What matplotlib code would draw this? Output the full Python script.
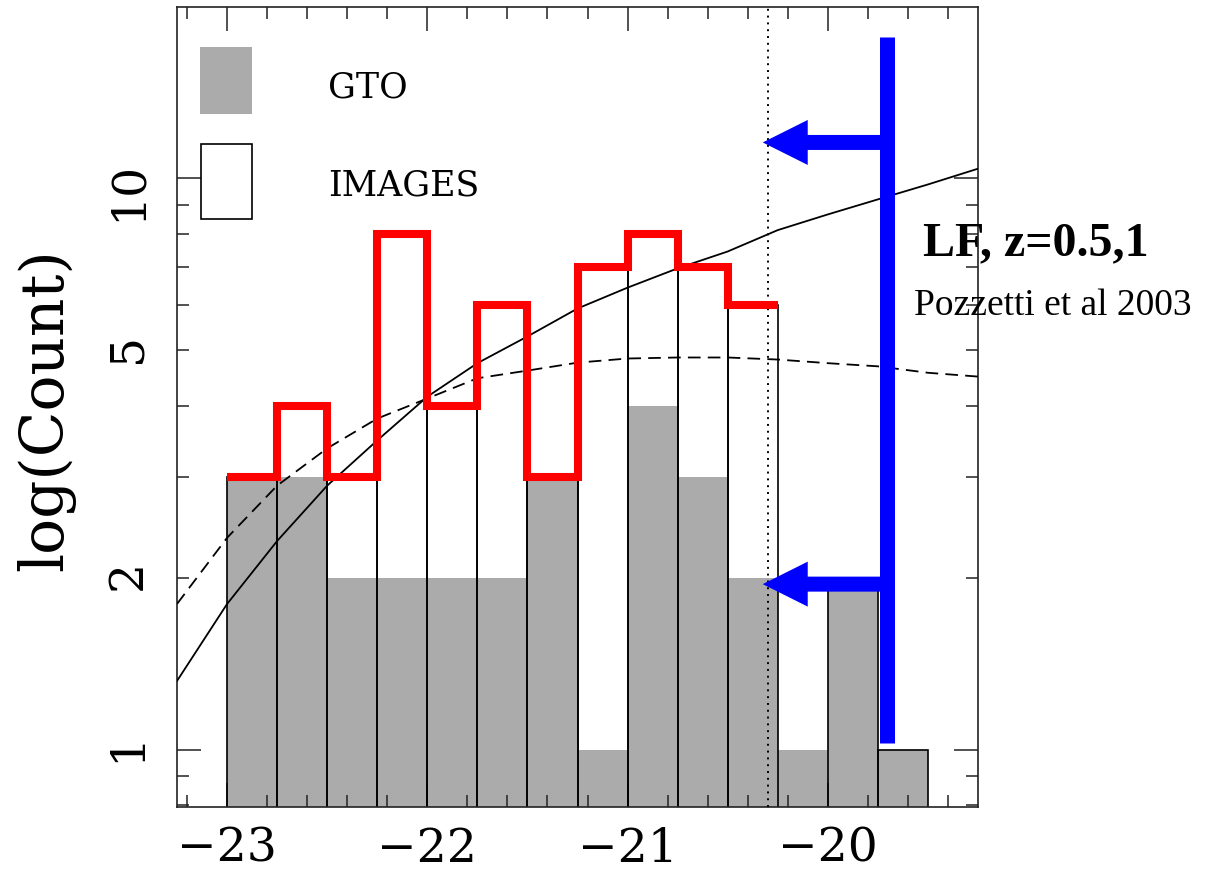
import matplotlib.pyplot as plt
from matplotlib.patches import Rectangle
from matplotlib.ticker import FixedLocator, MultipleLocator, FuncFormatter

# histogram bins (absolute magnitude), width 0.25
bin_left = [-23.0, -22.75, -22.5, -22.25, -22.0, -21.75, -21.5,
            -21.25, -21.0, -20.75, -20.5, -20.25, -20.0, -19.75]
bin_width = 0.25
gto_counts = [3, 3, 2, 2, 2, 2, 3, 1, 4, 3, 2, 1, 2, 1]
images_counts = [3, 4, 3, 8, 4, 6, 3, 7, 8, 7, 6, 0, 2, 1]

# red step outline of the IMAGES histogram
red_edges = [-23.0, -22.75, -22.5, -22.25, -22.0, -21.75, -21.5,
             -21.25, -21.0, -20.75, -20.5, -20.25]
red_counts = [3, 4, 3, 8, 4, 6, 3, 7, 8, 7, 6]

# luminosity function curves (Pozzetti et al 2003)
lf_mag = [-23.25, -23.0, -22.75, -22.5, -22.25, -22.0, -21.75, -21.5, -21.25,
          -21.0, -20.75, -20.5, -20.25, -20.0, -19.75, -19.5, -19.25]
lf_z05 = [1.32, 1.80, 2.32, 2.90, 3.48, 4.15, 4.75, 5.29, 5.92,
          6.44, 6.96, 7.45, 8.12, 8.65, 9.19, 9.76, 10.4]
lf_z1 = [1.80, 2.35, 2.90, 3.37, 3.80, 4.12, 4.47, 4.61, 4.76,
         4.84, 4.86, 4.86, 4.82, 4.75, 4.69, 4.57, 4.50]

mag_limit = -20.3
blue_x = -19.705
blue_span = [1.03, 17.7]
arrow_y = [11.56, 1.95]
arrow_tip = -20.325

BASE = 0.5  # bars start below the visible y range

fig = plt.figure(figsize=(12.09, 8.77), dpi=100)
ax = fig.add_axes([177/1209, 1-807/877, 801/1209, 800/877])

ax.bar(bin_left, [c - BASE for c in gto_counts], width=bin_width, align='edge',
       bottom=BASE, color='#ababab', edgecolor='none', zorder=1)
img_x = [x for x, c in zip(bin_left, images_counts) if c > 0]
img_c = [c for c in images_counts if c > 0]
ax.bar(img_x, [c - BASE for c in img_c], width=bin_width, align='edge', bottom=BASE,
       fill=False, edgecolor='black', linewidth=1.2, zorder=2)

ax.plot(lf_mag, lf_z05, color='black', lw=1.3, zorder=3)
ax.plot(lf_mag, lf_z1, color='black', lw=1.3, dashes=(7, 4), zorder=3)
ax.axvline(mag_limit, color='black', lw=1.4, ls=(0, (1, 2.5)), zorder=3)

ax.stairs(red_counts, red_edges, baseline=None, color='red', lw=5.8,
          joinstyle='miter', zorder=4)

ax.plot([blue_x, blue_x], blue_span, color='blue', lw=10.8,
        solid_capstyle='butt', zorder=5)
for y in arrow_y:
    ax.annotate('', xy=(arrow_tip, y), xytext=(blue_x, y),
                arrowprops=dict(arrowstyle='simple,head_length=3,head_width=3,tail_width=1',
                                mutation_scale=10.8, color='blue', lw=0,
                                shrinkA=0, shrinkB=0), zorder=5)

ax.set_xlim(-23.25, -19.25)
ax.set_yscale('log')
ax.set_ylim(10**-0.1, 10**1.3)

ax.xaxis.set_major_locator(MultipleLocator(1))
ax.xaxis.set_minor_locator(MultipleLocator(0.2))
ax.yaxis.set_major_locator(FixedLocator([1, 10]))
ax.yaxis.set_major_formatter(FuncFormatter(lambda v, p: '%d' % round(v)))
ax.yaxis.set_minor_locator(FixedLocator([0.8, 0.9, 2, 3, 4, 5, 6, 7, 8, 9]))
ax.yaxis.set_minor_formatter(FuncFormatter(lambda v, p: '%d' % round(v) if round(v) in (2, 5) else ''))

ax.tick_params(which='both', direction='in', top=True, right=True, width=1.1, color='#222222')
ax.tick_params(which='major', length=17)
ax.tick_params(which='minor', length=8.5)
ax.tick_params(axis='x', which='major', labelsize=34, pad=14)
ax.tick_params(axis='y', which='both', labelsize=34, pad=19, labelrotation=90)
for lab in ax.get_xticklabels() + ax.get_yticklabels() + ax.get_yticklabels(minor=True):
    lab.set_family('DejaVu Serif')
for s in ax.spines.values():
    s.set_linewidth(1.2)
    s.set_color('#222222')

# legend boxes
ax.add_patch(Rectangle((0.0287, 0.866), 0.065, 0.084, transform=ax.transAxes,
                       facecolor='#ababab', edgecolor='none', zorder=6))
ax.add_patch(Rectangle((0.0299, 0.735), 0.0637, 0.094, transform=ax.transAxes,
                       facecolor='white', edgecolor='black', lw=1.2, zorder=6))
ax.text(0.1885, 0.9, 'GTO', transform=ax.transAxes, fontsize=25,
        family='DejaVu Serif', va='center', ha='left')
ax.text(0.1885, 0.7775, 'IMAGES', transform=ax.transAxes, fontsize=25,
        family='DejaVu Serif', va='center', ha='left')

fig.text(46/1209, 1-410/877, 'log(Count)', rotation=90, ha='center', va='center',
         fontsize=43, family='DejaVu Serif')
fig.text(923/1209, 1-255/877, 'LF, z=0.5,1', fontsize=34.5, fontweight='bold',
         family='Liberation Serif', ha='left', va='baseline')
fig.text(914/1209, 1-315/877, 'Pozzetti et al 2003', fontsize=27,
         family='Liberation Serif', ha='left', va='baseline')

fig.savefig('out.png', dpi=100)
